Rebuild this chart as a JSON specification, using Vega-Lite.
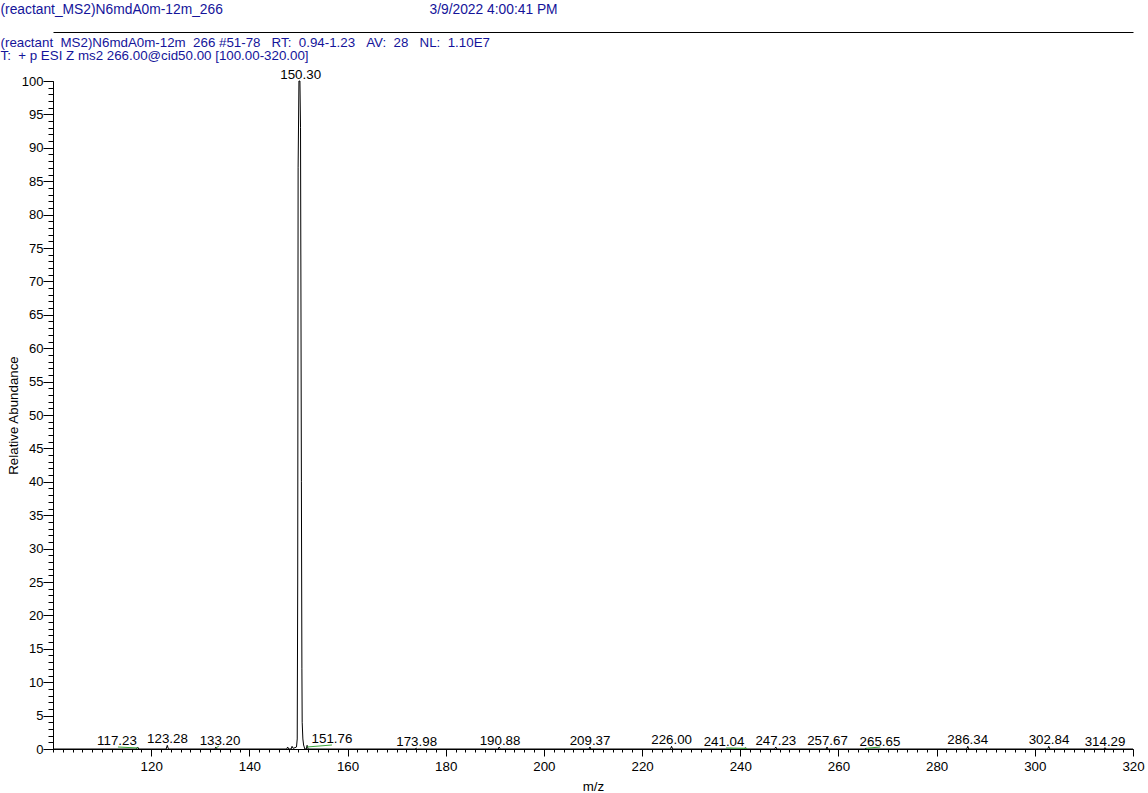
{
  "$schema": "https://vega.github.io/schema/vega-lite/v6.json",
  "width": 1080,
  "height": 668,
  "autosize": {"type": "none"},
  "padding": {"left": 53, "top": 81, "right": 15, "bottom": 44},
  "background": "white",
  "config": {"view": {"stroke": null}, "font": "Liberation Sans"},
  "datasets": {
    "spectrum": [
      {"mz": 100, "ab": 0}, {"mz": 117.0, "ab": 0}, {"mz": 117.23, "ab": 0.3}, {"mz": 117.5, "ab": 0},
      {"mz": 123.05, "ab": 0}, {"mz": 123.28, "ab": 0.55}, {"mz": 123.5, "ab": 0},
      {"mz": 133.0, "ab": 0}, {"mz": 133.2, "ab": 0.3}, {"mz": 133.4, "ab": 0},
      {"mz": 147.6, "ab": 0}, {"mz": 147.8, "ab": 0.3}, {"mz": 148.0, "ab": 0}, {"mz": 148.5, "ab": 0},
      {"mz": 148.7, "ab": 0.4}, {"mz": 148.9, "ab": 0.1}, {"mz": 149.3, "ab": 0.2}, {"mz": 149.6, "ab": 0.3},
      {"mz": 149.75, "ab": 1.5}, {"mz": 149.85, "ab": 25}, {"mz": 149.93, "ab": 87}, {"mz": 150.1, "ab": 100},
      {"mz": 150.3, "ab": 100}, {"mz": 150.42, "ab": 93}, {"mz": 150.6, "ab": 40}, {"mz": 150.7, "ab": 12},
      {"mz": 150.76, "ab": 4}, {"mz": 150.9, "ab": 1.5}, {"mz": 151.05, "ab": 0.6}, {"mz": 151.3, "ab": 0},
      {"mz": 151.6, "ab": 0}, {"mz": 151.76, "ab": 0.55}, {"mz": 151.95, "ab": 0},
      {"mz": 173.8, "ab": 0}, {"mz": 173.98, "ab": 0.15}, {"mz": 174.2, "ab": 0},
      {"mz": 190.7, "ab": 0}, {"mz": 190.88, "ab": 0.3}, {"mz": 191.1, "ab": 0},
      {"mz": 209.2, "ab": 0}, {"mz": 209.37, "ab": 0.3}, {"mz": 209.55, "ab": 0},
      {"mz": 225.8, "ab": 0}, {"mz": 226.0, "ab": 0.4}, {"mz": 226.2, "ab": 0},
      {"mz": 240.85, "ab": 0}, {"mz": 241.04, "ab": 0.2}, {"mz": 241.25, "ab": 0},
      {"mz": 247.0, "ab": 0}, {"mz": 247.23, "ab": 0.3}, {"mz": 247.45, "ab": 0},
      {"mz": 257.5, "ab": 0}, {"mz": 257.67, "ab": 0.3}, {"mz": 257.85, "ab": 0},
      {"mz": 265.45, "ab": 0}, {"mz": 265.65, "ab": 0.15}, {"mz": 265.85, "ab": 0},
      {"mz": 286.15, "ab": 0}, {"mz": 286.34, "ab": 0.4}, {"mz": 286.55, "ab": 0},
      {"mz": 302.65, "ab": 0}, {"mz": 302.84, "ab": 0.4}, {"mz": 303.05, "ab": 0},
      {"mz": 314.1, "ab": 0}, {"mz": 314.29, "ab": 0.2}, {"mz": 314.5, "ab": 0},
      {"mz": 320, "ab": 0}
    ],
    "peaks": [
      {"mz": 117.23, "ab": 0.3, "lx": 113.04},
      {"mz": 123.28, "ab": 0.55, "lx": 123.32},
      {"mz": 133.20, "ab": 0.3, "lx": 134.02},
      {"mz": 150.30, "ab": 100, "lx": 150.45},
      {"mz": 151.76, "ab": 0.55, "lx": 156.83},
      {"mz": 173.98, "ab": 0.15, "lx": 174.08},
      {"mz": 190.88, "ab": 0.3, "lx": 191.06},
      {"mz": 209.37, "ab": 0.3, "lx": 209.4},
      {"mz": 226.00, "ab": 0.4, "lx": 226.02},
      {"mz": 241.04, "ab": 0.2, "lx": 236.69},
      {"mz": 247.23, "ab": 0.3, "lx": 247.24},
      {"mz": 257.67, "ab": 0.3, "lx": 257.77},
      {"mz": 265.65, "ab": 0.15, "lx": 268.46},
      {"mz": 286.34, "ab": 0.4, "lx": 286.33},
      {"mz": 302.84, "ab": 0.4, "lx": 302.89},
      {"mz": 314.29, "ab": 0.2, "lx": 314.3}
    ],
    "links": [
      {"x1": 113.24, "x2": 117.31, "y1": 0.3, "y2": 0.15},
      {"x1": 133.2, "x2": 133.8, "y1": 0.15, "y2": 0.45},
      {"x1": 151.74, "x2": 156.83, "y1": 0.3, "y2": 0.6},
      {"x1": 237.1, "x2": 241.4, "y1": 0.15, "y2": 0.1},
      {"x1": 265.6, "x2": 268.5, "y1": 0.1, "y2": 0.3}
    ]
  },
  "resolve": {"axis": {"x": "independent", "y": "independent"}},
  "layer": [
    {
      "data": {"name": "spectrum"},
      "mark": {"type": "line", "color": "black", "strokeWidth": 1, "interpolate": "linear"},
      "encoding": {
        "x": {
          "field": "mz", "type": "quantitative",
          "scale": {"domain": [100, 320], "nice": false, "zero": false},
          "axis": {
            "orient": "bottom",
            "values": [120, 140, 160, 180, 200, 220, 240, 260, 280, 300, 320],
            "grid": false, "domainColor": "black", "domainWidth": 1,
            "tickColor": "black", "tickSize": 7, "tickWidth": 1,
            "labelColor": "black", "labelFont": "Liberation Sans", "labelFontSize": 13.33, "labelPadding": 3,
            "labelFlush": false, "labelOverlap": false,
            "title": "m/z", "titleFont": "Liberation Sans", "titleFontSize": 13.33, "titleFontWeight": "normal",
            "titleColor": "black", "titleY": 41, "titleBaseline": "alphabetic"
          }
        },
        "y": {
          "field": "ab", "type": "quantitative",
          "scale": {"domain": [0, 100], "nice": false, "zero": true},
          "axis": {
            "orient": "left",
            "values": [0, 5, 10, 15, 20, 25, 30, 35, 40, 45, 50, 55, 60, 65, 70, 75, 80, 85, 90, 95, 100],
            "grid": false, "domainColor": "black", "domainWidth": 1,
            "tickColor": "black", "tickSize": 10, "tickWidth": 1,
            "labelColor": "black", "labelFont": "Liberation Sans Narrow, Liberation Sans", "labelFontSize": 13, "labelPadding": 0,
            "labelFlush": false, "labelOverlap": false,
            "title": "Relative Abundance", "titleFont": "Liberation Sans", "titleFontSize": 13.33, "titleFontWeight": "normal",
            "titleColor": "black", "titleX": -33, "titleY": 334, "titleBaseline": "bottom", "titleAngle": -90
          }
        }
      }
    },
    {
      "data": {"name": "peaks"},
      "mark": {"type": "text", "font": "Liberation Sans", "fontSize": 13.33, "color": "black", "align": "center", "baseline": "alphabetic", "dy": -2},
      "encoding": {
        "x": {
          "field": "lx", "type": "quantitative",
          "axis": {
            "orient": "bottom",
            "values": [100,102,104,106,108,110,112,114,116,118,120,122,124,126,128,130,132,134,136,138,140,142,144,146,148,150,152,154,156,158,160,162,164,166,168,170,172,174,176,178,180,182,184,186,188,190,192,194,196,198,200,202,204,206,208,210,212,214,216,218,220,222,224,226,228,230,232,234,236,238,240,242,244,246,248,250,252,254,256,258,260,262,264,266,268,270,272,274,276,278,280,282,284,286,288,290,292,294,296,298,300,302,304,306,308,310,312,314,316,318,320],
            "grid": false, "domain": false, "labels": false, "tickColor": "black", "tickSize": 3, "tickWidth": 1, "title": null
          }
        },
        "y": {
          "field": "ab", "type": "quantitative",
          "axis": {
            "orient": "left",
            "values": [0,1,2,3,4,5,6,7,8,9,10,11,12,13,14,15,16,17,18,19,20,21,22,23,24,25,26,27,28,29,30,31,32,33,34,35,36,37,38,39,40,41,42,43,44,45,46,47,48,49,50,51,52,53,54,55,56,57,58,59,60,61,62,63,64,65,66,67,68,69,70,71,72,73,74,75,76,77,78,79,80,81,82,83,84,85,86,87,88,89,90,91,92,93,94,95,96,97,98,99,100],
            "grid": false, "domain": false, "labels": false, "tickColor": "black", "tickSize": 5, "tickWidth": 1,
            "title": ["(reactant\u00a0\u00a0MS2)N6mdA0m-12m\u00a0\u00a0266 #51-78\u00a0\u00a0\u00a0RT:\u00a0 0.94-1.23\u00a0\u00a0\u00a0AV:\u00a0 28\u00a0\u00a0\u00a0NL:\u00a0 1.10E7", "T:\u00a0 + p ESI Z ms2 266.00@cid50.00 [100.00-320.00]"],
            "titleFont": "Liberation Sans", "titleFontSize": 13.33, "titleFontWeight": "normal", "titleColor": "#14149a",
            "titleAngle": 0, "titleAlign": "left", "titleBaseline": "alphabetic", "titleX": -53, "titleY": -35, "titleLineHeight": 13
          }
        },
        "text": {"field": "mz", "type": "quantitative", "format": ".2f"}
      }
    },
    {
      "data": {"name": "links"},
      "mark": {"type": "rule", "color": "#3aa63a", "strokeWidth": 1},
      "encoding": {
        "x": {
          "field": "x1", "type": "quantitative",
          "axis": {
            "orient": "top", "offset": 49, "grid": false, "ticks": false, "labels": false,
            "domain": true, "domainColor": "black", "domainWidth": 1,
            "title": "(reactant_MS2)N6mdA0m-12m_266", "titleFont": "Liberation Sans", "titleFontSize": 13.8,
            "titleFontWeight": "normal", "titleColor": "#14149a", "titleAngle": 0, "titleAlign": "left",
            "titleBaseline": "alphabetic", "titleX": -53, "titleY": -19
          }
        },
        "x2": {"field": "x2"},
        "y": {
          "field": "y1", "type": "quantitative",
          "axis": {
            "orient": "right", "grid": false, "ticks": false, "labels": false, "domain": false,
            "title": "3/9/2022 4:00:41 PM", "titleFont": "Liberation Sans", "titleFontSize": 13.8,
            "titleFontWeight": "normal", "titleColor": "#14149a", "titleAngle": 0, "titleAlign": "left",
            "titleBaseline": "alphabetic", "titleX": -704, "titleY": -68
          }
        },
        "y2": {"field": "y2"}
      }
    }
  ]
}
